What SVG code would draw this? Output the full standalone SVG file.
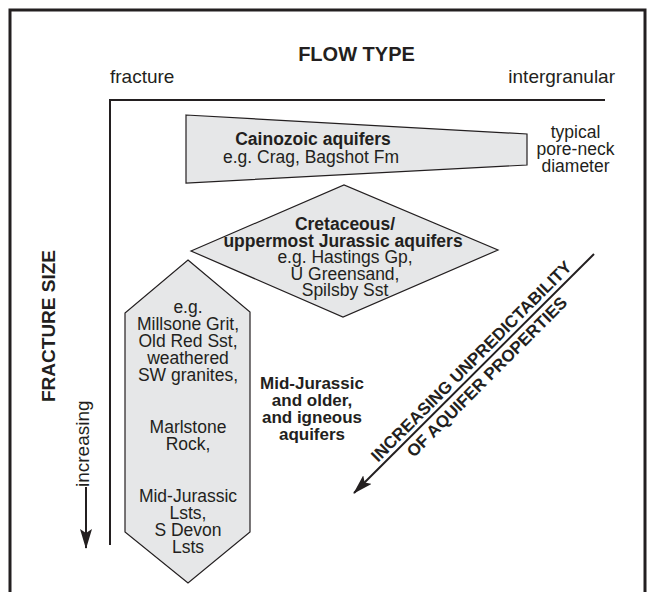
<svg xmlns="http://www.w3.org/2000/svg" width="648" height="592" viewBox="0 0 648 592">
  <defs>
    <style>
      text { font-family: "Liberation Sans", Arial, Helvetica, sans-serif; fill: #231f20; }
      .lbl { font-size: 19px; }
      .title { font-size: 20px; font-weight: bold; }
      .body { font-size: 17.5px; text-anchor: middle; }
      .bold { font-weight: bold; }
      .diag { font-size: 17px; font-weight: bold; text-anchor: middle; }
      .shape { fill: #e6e7e8; stroke: #231f20; stroke-width: 1.2; stroke-linejoin: miter; }
      .axis { fill: none; stroke: #231f20; stroke-width: 2; }
      .frame { fill: none; stroke: #231f20; stroke-width: 3; }
    </style>
    <marker id="arrowhead" viewBox="0 0 20 12" refX="19" refY="6" markerWidth="20" markerHeight="12" markerUnits="userSpaceOnUse" orient="auto">
      <path d="M0,0 L20,6 L0,12 L4,6 Z" fill="#231f20"/>
    </marker>
  </defs>

  <rect width="648" height="592" fill="#ffffff"/>

  <!-- outer frame (open past the bottom edge) -->
  <rect class="frame" x="10" y="10" width="635" height="600"/>

  <!-- axes and axis labels -->
  <g id="axes">
    <text class="title" x="356.5" y="61" text-anchor="middle">FLOW TYPE</text>
    <text class="lbl" x="110" y="83">fracture</text>
    <text class="lbl" x="615" y="83" text-anchor="end">intergranular</text>
    <path class="axis" d="M605,100 H110 V545"/>
    <text class="title" transform="translate(55,326) rotate(-90)" text-anchor="middle" style="font-size:19px">FRACTURE SIZE</text>
    <text class="lbl" transform="translate(89,487) rotate(-90)">increasing</text>
  </g>

  <!-- connectors -->
  <g id="connectors">
    <line x1="86" y1="487" x2="86" y2="548" stroke="#231f20" stroke-width="2" marker-end="url(#arrowhead)"/>
    <line x1="594" y1="254" x2="354" y2="493" stroke="#231f20" stroke-width="2" marker-end="url(#arrowhead)"/>
  </g>

  <!-- Cainozoic aquifers -->
  <g id="cainozoic">
    <polygon class="shape" points="186,115 527,134 527,165 186,183"/>
    <text class="body bold" x="313" y="145">Cainozoic aquifers</text>
    <text class="body" x="311" y="163">e.g. Crag, Bagshot Fm</text>
  </g>

  <g id="pore-neck">
    <text class="body" x="575.5" y="137.5">typical</text>
    <text class="body" x="575.5" y="155">pore-neck</text>
    <text class="body" x="575.5" y="172">diameter</text>
  </g>

  <!-- Cretaceous / uppermost Jurassic aquifers -->
  <g id="cretaceous">
    <polygon class="shape" points="191,251 344,185 498,250 343,317"/>
    <text class="body bold" x="345" y="230">Cretaceous/</text>
    <text class="body bold" x="343" y="246.5">uppermost Jurassic aquifers</text>
    <text class="body" x="345" y="263">e.g. Hastings Gp,</text>
    <text class="body" x="345" y="280">U Greensand,</text>
    <text class="body" x="345" y="296">Spilsby Sst</text>
  </g>

  <!-- Mid-Jurassic and older aquifers -->
  <g id="mid-jurassic">
    <polygon class="shape" points="188,260 250,312 250,532 188,583 125,532 125,313"/>
    <text class="body" x="188" y="313">e.g.</text>
    <text class="body" x="188" y="330">Millsone Grit,</text>
    <text class="body" x="188" y="347">Old Red Sst,</text>
    <text class="body" x="188" y="364">weathered</text>
    <text class="body" x="188" y="381">SW granites,</text>
    <text class="body" x="188" y="433">Marlstone</text>
    <text class="body" x="188" y="450">Rock,</text>
    <text class="body" x="188" y="502">Mid-Jurassic</text>
    <text class="body" x="188" y="519">Lsts,</text>
    <text class="body" x="188" y="536">S Devon</text>
    <text class="body" x="188" y="553">Lsts</text>
  </g>

  <g id="mid-jurassic-label">
    <text class="body bold" x="312" y="389" style="font-size:17px">Mid-Jurassic</text>
    <text class="body bold" x="312" y="406" style="font-size:17px">and older,</text>
    <text class="body bold" x="312" y="423" style="font-size:17px">and igneous</text>
    <text class="body bold" x="312" y="440" style="font-size:17px">aquifers</text>
  </g>

  <!-- diagonal trend label -->
  <g id="unpredictability" transform="translate(479,369) rotate(-45)">
    <text class="diag" x="0" y="-5">INCREASING UNPREDICTABILITY</text>
    <text class="diag" x="0" y="17">OF AQUIFER PROPERTIES</text>
  </g>
</svg>
